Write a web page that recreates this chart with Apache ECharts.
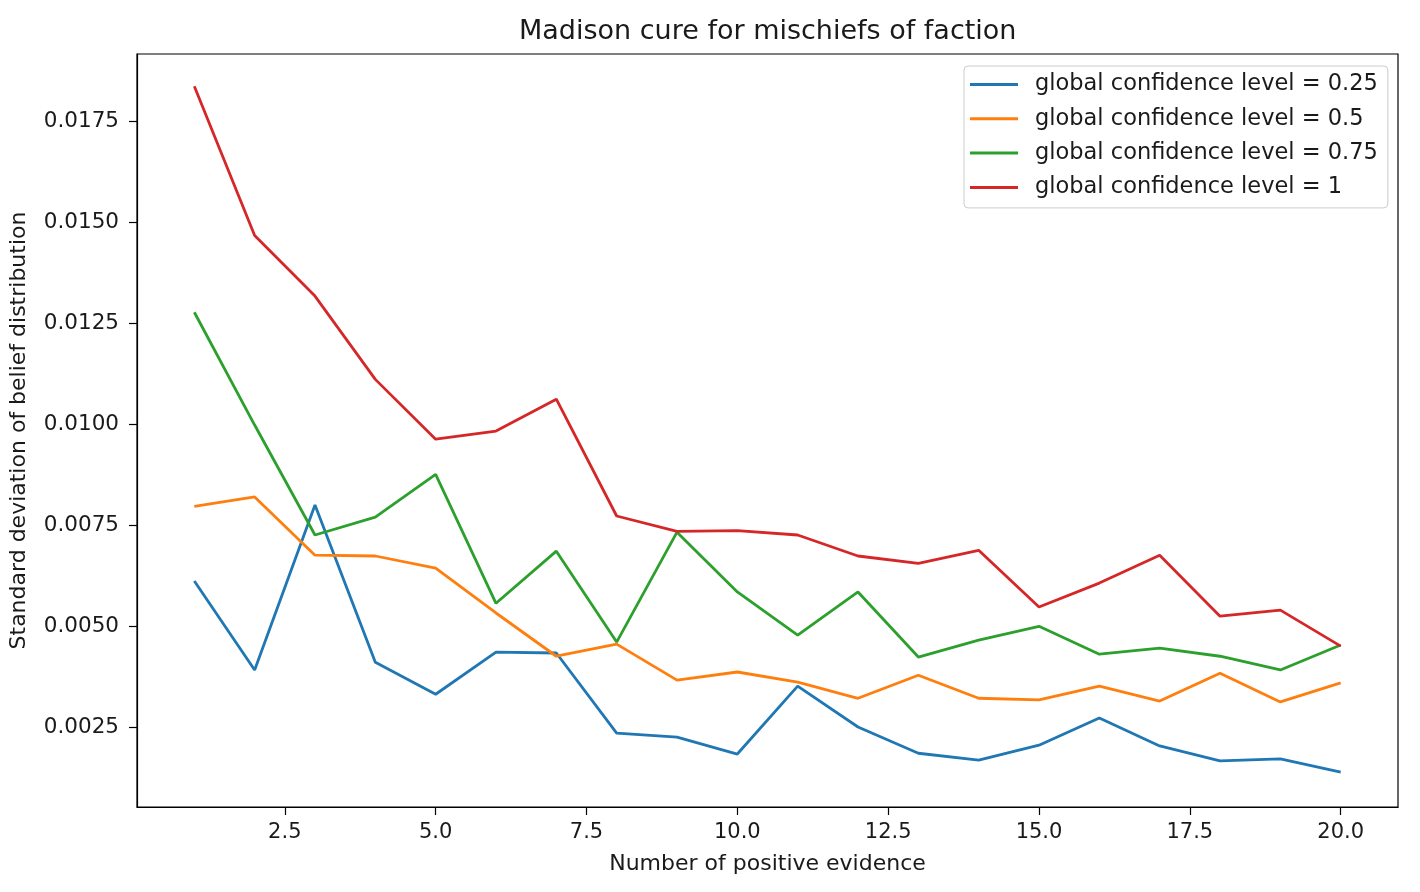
<!DOCTYPE html>
<html>
<head>
<meta charset="utf-8">
<script src="https://cdn.jsdelivr.net/npm/echarts@6/dist/echarts.min.js"></script>
<style>
html, body { margin: 0; padding: 0; background: #ffffff; }
#chart { width: 1420px; height: 892px; }
</style>
</head>
<body>
<div id="chart"></div>
<script>
// ---- data ----
const evidence = [1, 2, 3, 4, 5, 6, 7, 8, 9, 10, 11, 12, 13, 14, 15, 16, 17, 18, 19, 20];
const level025 = [0.00612, 0.00392, 0.00800, 0.00411, 0.00332, 0.00436, 0.00434, 0.00236, 0.00226, 0.00184,
                  0.00352, 0.00251, 0.00186, 0.00169, 0.00206, 0.00273, 0.00204, 0.00167, 0.00172, 0.00139];
const level05  = [0.00797, 0.00820, 0.00676, 0.00674, 0.00644, 0.00533, 0.00426, 0.00456, 0.00367, 0.00387,
                  0.00362, 0.00322, 0.00379, 0.00322, 0.00318, 0.00352, 0.00315, 0.00384, 0.00313, 0.00360];
const level075 = [0.01277, 0.00998, 0.00726, 0.00770, 0.00876, 0.00557, 0.00686, 0.00461, 0.00733, 0.00585,
                  0.00478, 0.00585, 0.00424, 0.00466, 0.00500, 0.00431, 0.00446, 0.00426, 0.00392, 0.00454];
const level1   = [0.01836, 0.01467, 0.01317, 0.01111, 0.00963, 0.00983, 0.01062, 0.00773, 0.00735, 0.00737,
                  0.00726, 0.00674, 0.00656, 0.00688, 0.00548, 0.00607, 0.00676, 0.00525, 0.00540, 0.00451];
const seriesNames = ['global confidence level = 0.25', 'global confidence level = 0.5',
                     'global confidence level = 0.75', 'global confidence level = 1'];
const xTicks = [2.5, 5, 7.5, 10, 12.5, 15, 17.5, 20];
const yTicks = [0.0025, 0.005, 0.0075, 0.01, 0.0125, 0.015, 0.0175];

// ---- styling ----
const FONT = 'DejaVu Sans';
const TEXT = '#1a1a1a';
const colors = ['#1f77b4', '#ff7f0e', '#2ca02c', '#d62728'];
const allSeries = [level025, level05, level075, level1];

const chart = echarts.init(document.getElementById('chart'), null, { renderer: 'canvas' });

const option = {
  animation: false,
  backgroundColor: '#ffffff',
  color: colors,
  title: {
    text: 'Madison cure for mischiefs of faction',
    left: 519,
    top: 18,
    padding: 0,
    textStyle: { fontFamily: FONT, fontSize: 27, fontWeight: 'normal', color: TEXT }
  },
  legend: {
    orient: 'vertical',
    left: 964,
    top: 66,
    padding: [7, 10, 9, 6],
    icon: 'rect',
    itemWidth: 48,
    itemHeight: 3,
    itemGap: 11.3,
    textStyle: { fontFamily: FONT, fontSize: 22.5, color: TEXT, lineHeight: 22, padding: [0, 0, 0, 12] },
    backgroundColor: 'rgba(255,255,255,0.8)',
    borderColor: '#cccccc',
    borderWidth: 1,
    borderRadius: 4,
    data: seriesNames
  },
  grid: {
    left: 137, right: 22, top: 54, bottom: 85,
    show: true, borderColor: '#000', borderWidth: 1.2, backgroundColor: 'transparent'
  },
  xAxis: {
    type: 'value',
    min: 0.05, max: 20.95,
    name: 'Number of positive evidence',
    nameLocation: 'middle',
    nameGap: 46,
    nameTextStyle: { fontFamily: FONT, fontSize: 22, color: TEXT },
    axisLine: { show: true, onZero: false, lineStyle: { color: '#000', width: 1.2 } },
    axisTick: { show: true, inside: false, length: 8, customValues: xTicks, lineStyle: { color: '#000', width: 1.2 } },
    axisLabel: { customValues: xTicks, margin: 15, fontFamily: FONT, fontSize: 21, color: TEXT,
                 formatter: v => Number(v).toFixed(1) },
    splitLine: { show: false }
  },
  yAxis: {
    type: 'value',
    min: 0.00053, max: 0.01916,
    name: 'Standard deviation of belief distribution',
    nameLocation: 'middle',
    nameGap: 107,
    nameTextStyle: { fontFamily: FONT, fontSize: 22, color: TEXT },
    axisLine: { show: true, onZero: false, lineStyle: { color: '#000', width: 1.2 } },
    axisTick: { show: true, inside: false, length: 8, customValues: yTicks, lineStyle: { color: '#000', width: 1.2 } },
    axisLabel: { customValues: yTicks, margin: 18, fontFamily: FONT, fontSize: 21.5, color: TEXT,
                 formatter: v => Number(v).toFixed(4) },
    splitLine: { show: false }
  },
  series: allSeries.map((vals, i) => ({
    name: seriesNames[i],
    type: 'line',
    symbol: 'none',
    lineStyle: { width: 2.8, color: colors[i] },
    itemStyle: { color: colors[i] },
    data: evidence.map((x, j) => [x, vals[j]])
  }))
};

chart.setOption(option);
</script>
</body>
</html>
